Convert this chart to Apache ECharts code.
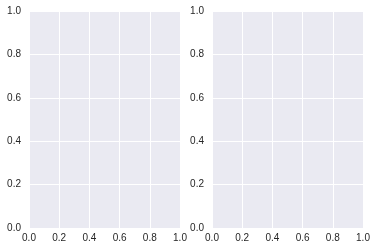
<!DOCTYPE html>
<html><head><meta charset="utf-8">
<script src="https://cdn.jsdelivr.net/npm/echarts@6/dist/echarts.min.js"></script>
<style>html,body{margin:0;padding:0;background:#fff}#c{width:377px;height:251px}</style>
</head><body><div id="c"></div>
<script>
const xTicks = [0.0, 0.2, 0.4, 0.6, 0.8, 1.0];
const yTicks = [0.0, 0.2, 0.4, 0.6, 0.8, 1.0];
const leftData = [];
const rightData = [];

const axisMin = xTicks[0], axisMax = xTicks[xTicks.length - 1];
const step = xTicks[1] - xTicks[0];
const lbl = {color: '#262626', fontSize: 10, fontFamily: 'Liberation Sans, Arial, sans-serif', formatter: v => v.toFixed(1)};
function xAx(i){return {type:'value', gridIndex:i, min:axisMin, max:axisMax, interval:step,
  axisLine:{show:false}, axisTick:{show:false}, axisLabel:Object.assign({margin:5}, lbl),
  splitLine:{show:true, lineStyle:{color:'#ffffff', width:1}}};}
function yAx(i){return {type:'value', gridIndex:i, min:yTicks[0], max:yTicks[yTicks.length-1], interval:yTicks[1]-yTicks[0],
  axisLine:{show:false}, axisTick:{show:false}, axisLabel:Object.assign({margin:8}, lbl),
  splitLine:{show:true, lineStyle:{color:'#ffffff', width:1}}};}
const chart = echarts.init(document.getElementById('c'), null, {renderer:'canvas'});
chart.setOption({
  animation:false,
  grid:[
    {left:29, top:11, width:151, height:217, show:true, backgroundColor:'#EAEAF2', borderWidth:0},
    {left:212, top:11, width:151, height:217, show:true, backgroundColor:'#EAEAF2', borderWidth:0}
  ],
  xAxis:[xAx(0), xAx(1)],
  yAxis:[yAx(0), yAx(1)],
  series:[
    {type:'line', xAxisIndex:0, yAxisIndex:0, data:leftData},
    {type:'line', xAxisIndex:1, yAxisIndex:1, data:rightData}
  ]
});
</script></body></html>
